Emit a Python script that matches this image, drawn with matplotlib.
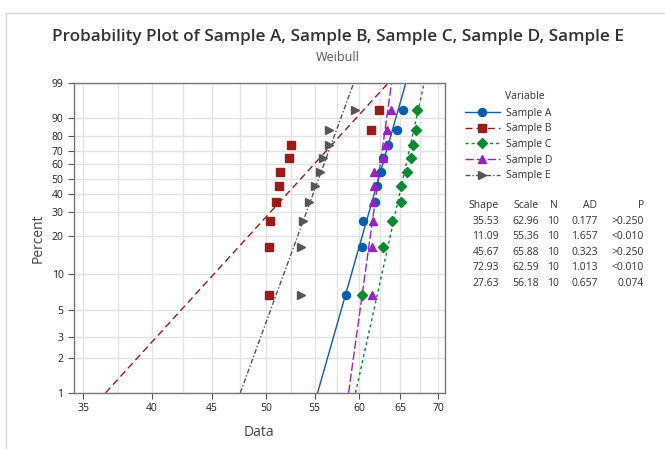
import numpy as np
import matplotlib
matplotlib.use('Agg')
import matplotlib.pyplot as plt
from matplotlib.lines import Line2D
from matplotlib.ticker import NullFormatter, FixedFormatter

plt.rcParams['font.family'] = ['Open Sans', 'DejaVu Sans']

# plotting positions (median ranks, percent) shared by all samples
pct = [6.73, 16.35, 25.96, 35.58, 45.19, 54.81, 64.42, 74.04, 83.65, 93.27]

# sample data
sample_a = [58.45, 60.31, 60.39, 61.83, 62.10, 62.55, 62.90, 63.50, 64.55, 65.38]
sample_b = [50.29, 50.29, 50.39, 50.96, 51.32, 51.41, 52.33, 52.47, 61.42, 62.38]
sample_c = [60.35, 62.87, 63.98, 65.04, 65.04, 65.81, 66.40, 66.65, 67.05, 67.10]
sample_d = [61.53, 61.53, 61.66, 61.66, 61.70, 61.72, 62.80, 63.26, 63.30, 63.82]
sample_e = [53.51, 53.51, 53.72, 54.35, 55.05, 55.53, 55.85, 56.58, 56.58, 59.52]

names = ['Sample A', 'Sample B', 'Sample C', 'Sample D', 'Sample E']
shape = [35.53, 11.09, 45.67, 72.93, 27.63]
scale = [62.96, 55.36, 65.88, 62.59, 56.18]
n_obs = [10, 10, 10, 10, 10]
ad = ['0.177', '1.657', '0.323', '1.013', '0.657']
pval = ['>0.250', '<0.010', '>0.250', '<0.010', '0.074']

x_ticks = [35, 40, 45, 50, 55, 60, 65, 70]
x_minor = [37.5, 42.5, 47.5, 52.5, 57.5, 62.5, 67.5]
y_ticks = [1, 2, 3, 5, 10, 20, 30, 40, 50, 60, 70, 80, 90, 99]

colors = ['#0A5DAD', '#9B1B1B', '#0A8A30', '#9B22C2', '#555555']
markers = ['o', 's', 'D', '^', '>']
msizes = [5.8, 5.3, 5.3, 5.8, 5.8]
dashes = [None, (5, 3), (2.2, 2.2), (6, 2), (3.5, 1.5, 1, 1.5)]


def weib_fwd(p):
    p = np.clip(np.asarray(p, dtype=float), 1e-6, 100 - 1e-6) / 100.0
    return np.log(-np.log(1 - p))


def weib_inv(w):
    return 100.0 * (1 - np.exp(-np.exp(w)))


W, H = 665, 449
fig = plt.figure(figsize=(6.65, 4.49), dpi=100)
ax = fig.add_axes([0.111, 0.125, 0.558, 0.691])
ax.set_xscale('log')
ax.set_yscale('function', functions=(weib_fwd, weib_inv))
ax.set_xlim(34.37, 70.92)
ax.set_ylim(1, 99)

samples = [sample_a, sample_b, sample_c, sample_d, sample_e]
p_line = np.linspace(1, 99, 400)
handles = []
for i, data in enumerate(samples):
    xl = scale[i] * (-np.log(1 - p_line / 100)) ** (1 / shape[i])
    ln, = ax.plot(xl, p_line, color=colors[i], lw=1)
    if dashes[i] is not None:
        ln.set_dashes(dashes[i])
    ax.plot(data, pct, linestyle='none', marker=markers[i], ms=msizes[i],
            color=colors[i], mec=colors[i], zorder=4)
    h = Line2D([0], [0], color=colors[i], lw=1, marker=markers[i],
               ms=msizes[i], mec=colors[i])
    if dashes[i] is not None:
        h.set_dashes(dashes[i])
    handles.append(h)

ax.set_xticks(x_ticks)
ax.xaxis.set_major_formatter(FixedFormatter([str(t) for t in x_ticks]))
ax.set_xticks(x_minor, minor=True)
ax.xaxis.set_minor_formatter(NullFormatter())
ax.set_yticks(y_ticks)
ax.set_yticklabels([str(t) for t in y_ticks])
ax.yaxis.set_minor_formatter(NullFormatter())
ax.tick_params(axis='x', which='minor', length=0)
ax.tick_params(which='major', length=4, color='#555555', labelsize=7.5,
               labelcolor='#222222', direction='out')
ax.grid(True, which='both', color='#E3E3E3', lw=1)
ax.set_axisbelow(True)
for s in ax.spines.values():
    s.set_color('#777777')
    s.set_linewidth(1)

ax.set_xlabel('Data', fontsize=10, color='#444444', labelpad=8)
ax.set_ylabel('Percent', fontsize=10, color='#444444', labelpad=4)

fig.text(0.508, 0.918, 'Probability Plot of Sample A, Sample B, Sample C, Sample D, Sample E',
         ha='center', va='center', fontsize=12.3, fontweight='semibold', color='#333333')
fig.text(0.508, 0.873, 'Weibull', ha='center', va='center', fontsize=9, color='#555555')

fig.text(505 / W, 1 - 96.7 / H, 'Variable', ha='left', va='center',
         fontsize=7.5, color='#333333')
leg = fig.legend(handles, names, loc='upper left', bbox_to_anchor=(461 / W, 1 - 103.5 / H),
                 frameon=False, fontsize=7.5, handlelength=3.3, handletextpad=0.6,
                 labelspacing=0.45, borderaxespad=0)
for t in leg.get_texts():
    t.set_color('#333333')

# statistics table
col_right = [499, 539, 559, 598, 644]
head_right = [499, 539, 558, 597, 644]
headers = ['Shape', 'Scale', 'N', 'AD', 'P']
row_y = [221, 236.7, 252.3, 267.7, 283.3]
for j, hd in enumerate(headers):
    fig.text(head_right[j] / W, 1 - 205.7 / H, hd, ha='right', va='center',
             fontsize=7.5, color='#333333')
for i in range(len(names)):
    vals = ['%.2f' % shape[i], '%.2f' % scale[i], str(n_obs[i]), ad[i], pval[i]]
    for j, v in enumerate(vals):
        fig.text(col_right[j] / W, 1 - row_y[i] / H, v, ha='right', va='center',
                 fontsize=7.5, color='#333333')

# window frame lines
fig.add_artist(Line2D([6 / W, 1], [1 - 13 / H, 1 - 13 / H], color='#D8D8D8', lw=1))
fig.add_artist(Line2D([6 / W, 6 / W], [0, 1 - 13 / H], color='#D8D8D8', lw=1))

fig.savefig('out.png', dpi=100)
